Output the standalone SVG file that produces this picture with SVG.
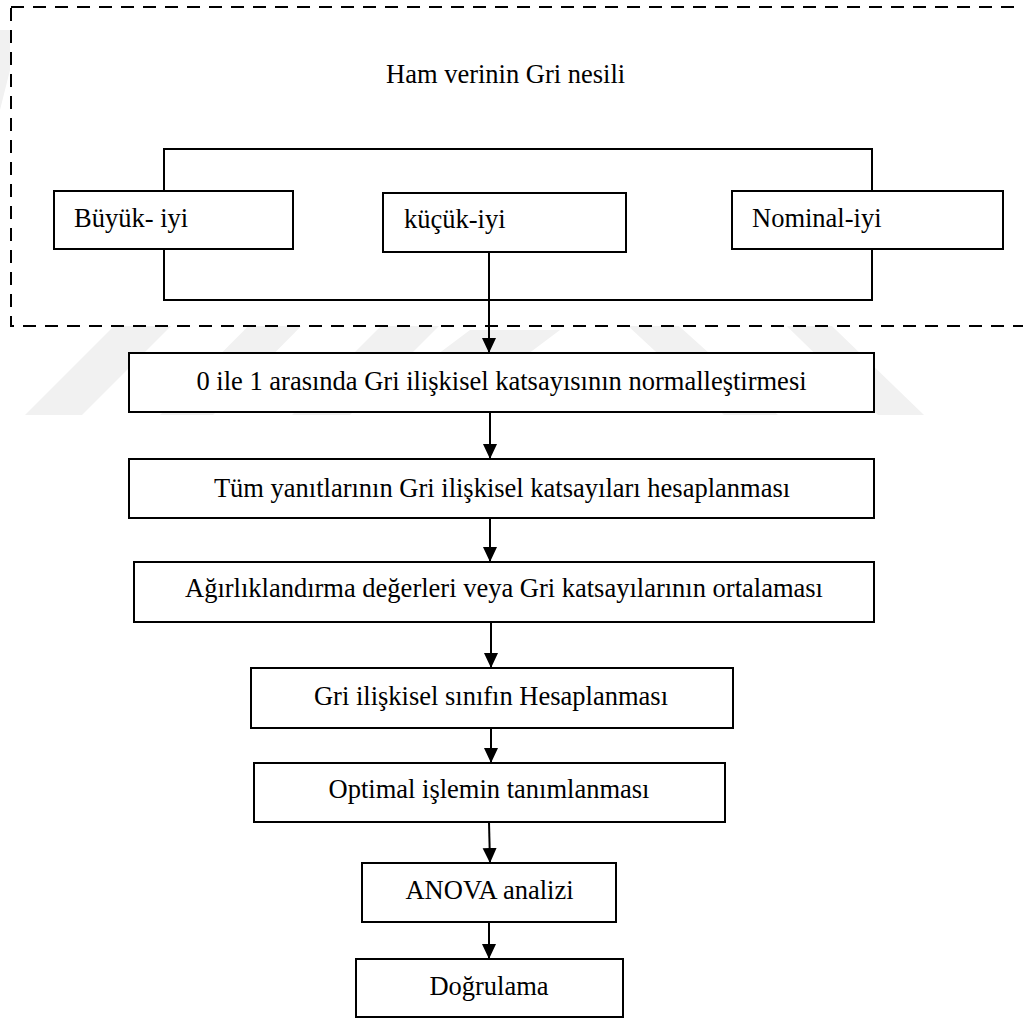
<svg xmlns="http://www.w3.org/2000/svg" width="1023" height="1018" viewBox="0 0 1023 1018">
<style>
.box{fill:#fff;stroke:#000;stroke-width:2}
.t{font-family:"Liberation Serif","Times New Roman",serif;font-size:26.5px;fill:#000}
.c{text-anchor:middle}
.ln{fill:none;stroke:#000;stroke-width:2}
.wm{fill:#f1f1f1}
</style>
<defs>
<marker id="ah" markerUnits="userSpaceOnUse" markerWidth="16" markerHeight="16" refX="15" refY="7" orient="auto">
<path d="M0,0 L15,7 L0,14 Z" fill="#000"/>
</marker>
</defs>
<g id="watermark">
<polygon class="wm" points="25,415 82,415 200,297 143,297"/>
<polygon class="wm" points="160,415 213,415 330,297 277,297"/>
<polygon class="wm" points="292,415 350,415 468,297 410,297"/>
<polygon class="wm" points="430,360 470,330 560,330 520,360"/>
<polygon class="wm" points="600,300 650,300 778,415 724,415"/>
<polygon class="wm" points="760,300 805,300 924,415 878,415"/>
<polygon class="wm" points="0,30 10,30 10,70 0,110"/>
</g>
<g id="frame">
<rect x="11" y="7" width="1030" height="319" fill="#fff" stroke="#000" stroke-width="2" stroke-dasharray="13 9"/>
<text class="t" x="386" y="83">Ham verinin Gri nesili</text>
</g>
<g id="connectors">
<rect class="ln" x="164" y="149" width="708" height="151"/>
<line class="ln" x1="489" y1="252" x2="489" y2="353" marker-end="url(#ah)"/>
<line class="ln" x1="490" y1="412" x2="490" y2="459" marker-end="url(#ah)"/>
<line class="ln" x1="490" y1="518" x2="490" y2="562" marker-end="url(#ah)"/>
<line class="ln" x1="491" y1="622" x2="491" y2="668" marker-end="url(#ah)"/>
<line class="ln" x1="491" y1="728" x2="491" y2="763" marker-end="url(#ah)"/>
<line class="ln" x1="489" y1="822" x2="490" y2="863" marker-end="url(#ah)"/>
<line class="ln" x1="489" y1="922" x2="489" y2="959" marker-end="url(#ah)"/>
</g>
<g id="n-buyuk">
<rect class="box" x="54" y="191" width="239" height="58"/>
<text class="t" x="74" y="227">Büyük- iyi</text>
</g>
<g id="n-kucuk">
<rect class="box" x="383" y="193" width="243" height="59"/>
<text class="t" x="404" y="228">küçük-iyi</text>
</g>
<g id="n-nominal">
<rect class="box" x="732" y="191" width="271" height="58"/>
<text class="t" x="752" y="227">Nominal-iyi</text>
</g>
<g id="n1">
<rect class="box" x="129" y="353" width="745" height="59"/>
<text class="t c" x="501.5" y="390">0 ile 1 arasında Gri ilişkisel katsayısının normalleştirmesi</text>
</g>
<g id="n2">
<rect class="box" x="129" y="459" width="745" height="59"/>
<text class="t c" x="502" y="497">Tüm yanıtlarının Gri ilişkisel katsayıları hesaplanması</text>
</g>
<g id="n3">
<rect class="box" x="134" y="562" width="740" height="60"/>
<text class="t c" x="504" y="597">Ağırlıklandırma değerleri veya Gri katsayılarının ortalaması</text>
</g>
<g id="n4">
<rect class="box" x="251" y="668" width="482" height="60"/>
<text class="t c" x="491" y="705">Gri ilişkisel sınıfın Hesaplanması</text>
</g>
<g id="n5">
<rect class="box" x="254" y="763" width="471" height="59"/>
<text class="t c" x="489" y="798">Optimal işlemin tanımlanması</text>
</g>
<g id="n6">
<rect class="box" x="362" y="863" width="254" height="59"/>
<text class="t c" x="489.5" y="899">ANOVA analizi</text>
</g>
<g id="n7">
<rect class="box" x="356" y="959" width="267" height="58"/>
<text class="t c" x="489" y="995">Doğrulama</text>
</g>
</svg>
